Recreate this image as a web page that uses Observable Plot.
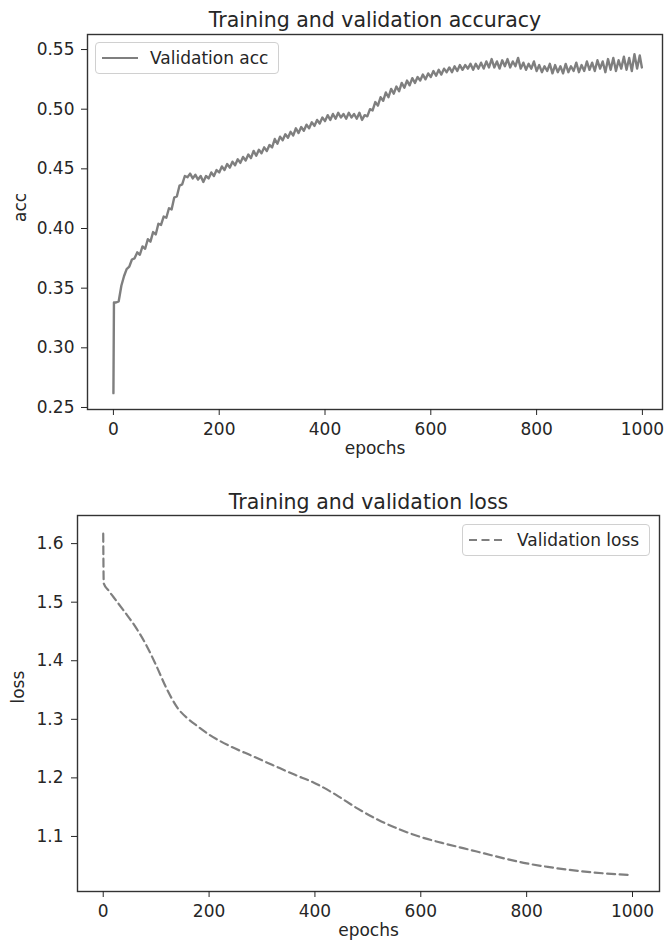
<!DOCTYPE html>
<html>
<head>
<meta charset="utf-8">
<script src="https://cdn.jsdelivr.net/npm/d3@7"></script>
<script src="https://cdn.jsdelivr.net/npm/@observablehq/plot@0.6"></script>
<style>
  html, body { margin: 0; padding: 0; background: #fff; }
  #wrap { position: relative; width: 667px; height: 950px; font-family: "DejaVu Sans", sans-serif; color: #262626; }
  #wrap svg { display: block; }
  .legend { position: absolute; box-sizing: border-box; border: 1px solid #d0d0d0; border-radius: 4px; background: rgba(255,255,255,0.8); font-size: 17px; display: flex; align-items: center; }
  .legend svg { display: inline-block; margin-right: 12px; }
</style>
</head>
<body>
<div id="wrap"></div>
<script>
// ---------- data ----------
const epochTicks = [0, 200, 400, 600, 800, 1000];
const accTicks = [0.25, 0.30, 0.35, 0.40, 0.45, 0.50, 0.55];
const lossTicks = [1.1, 1.2, 1.3, 1.4, 1.5, 1.6];

const accEpochs = [0, 1,
  5, 10, 15, 20, 25, 30, 35, 40, 45, 50,
  55, 60, 65, 70, 75, 80, 85, 90, 95, 100,
  105, 110, 115, 120, 125, 130, 135, 140, 145, 150,
  155, 160, 165, 170, 175, 180, 185, 190, 195, 200,
  205, 210, 215, 220, 225, 230, 235, 240, 245, 250,
  255, 260, 265, 270, 275, 280, 285, 290, 295, 300,
  305, 310, 315, 320, 325, 330, 335, 340, 345, 350,
  355, 360, 365, 370, 375, 380, 385, 390, 395, 400,
  405, 410, 415, 420, 425, 430, 435, 440, 445, 450,
  455, 460, 465, 470, 475, 480, 485, 490, 495, 500,
  505, 510, 515, 520, 525, 530, 535, 540, 545, 550,
  555, 560, 565, 570, 575, 580, 585, 590, 595, 600,
  605, 610, 615, 620, 625, 630, 635, 640, 645, 650,
  655, 660, 665, 670, 675, 680, 685, 690, 695, 700,
  705, 710, 715, 720, 725, 730, 735, 740, 745, 750,
  755, 760, 765, 770, 775, 780, 785, 790, 795, 800,
  805, 810, 815, 820, 825, 830, 835, 840, 845, 850,
  855, 860, 865, 870, 875, 880, 885, 890, 895, 900,
  905, 910, 915, 920, 925, 930, 935, 940, 945, 950,
  955, 960, 965, 970, 975, 980, 985, 990, 995, 999];

const accValues = [0.262, 0.338,
  0.338, 0.339, 0.352, 0.360, 0.366, 0.368, 0.374, 0.375, 0.380, 0.378,
  0.385, 0.383, 0.391, 0.389, 0.397, 0.395, 0.404, 0.403, 0.410, 0.409,
  0.417, 0.416, 0.426, 0.427, 0.436, 0.437, 0.444, 0.443, 0.446, 0.442,
  0.445, 0.441, 0.444, 0.439, 0.444, 0.442, 0.447, 0.444, 0.449, 0.447,
  0.452, 0.449, 0.454, 0.451, 0.456, 0.453, 0.458, 0.455, 0.460, 0.457,
  0.462, 0.459, 0.465, 0.461, 0.466, 0.463, 0.468, 0.465, 0.470, 0.468,
  0.475, 0.471, 0.477, 0.474, 0.479, 0.476, 0.481, 0.478, 0.484, 0.480,
  0.485, 0.482, 0.487, 0.484, 0.489, 0.486, 0.491, 0.488, 0.493, 0.490,
  0.495, 0.491, 0.496, 0.492, 0.497, 0.493, 0.496, 0.492, 0.497, 0.493,
  0.496, 0.492, 0.497, 0.491, 0.495, 0.494, 0.500, 0.499, 0.506, 0.503,
  0.510, 0.507, 0.514, 0.510, 0.517, 0.513, 0.519, 0.515, 0.522, 0.518,
  0.524, 0.520, 0.526, 0.522, 0.527, 0.524, 0.529, 0.525, 0.530, 0.527,
  0.532, 0.528, 0.533, 0.529, 0.534, 0.531, 0.535, 0.531, 0.536, 0.532,
  0.537, 0.533, 0.537, 0.534, 0.538, 0.533, 0.538, 0.534, 0.539, 0.534,
  0.540, 0.535, 0.542, 0.535, 0.540, 0.534, 0.541, 0.536, 0.542, 0.535,
  0.540, 0.536, 0.543, 0.534, 0.539, 0.533, 0.538, 0.534, 0.540, 0.532,
  0.537, 0.531, 0.536, 0.532, 0.538, 0.530, 0.537, 0.531, 0.536, 0.530,
  0.538, 0.531, 0.536, 0.532, 0.539, 0.531, 0.537, 0.532, 0.540, 0.533,
  0.539, 0.532, 0.541, 0.534, 0.540, 0.531, 0.542, 0.533, 0.543, 0.532,
  0.541, 0.534, 0.544, 0.533, 0.543, 0.532, 0.546, 0.534, 0.545, 0.535];

const lossEpochs = [0, 1, 10, 20, 40, 60, 80, 100, 120, 140, 160, 180, 200, 240, 280, 320, 360, 400,
  440, 480, 520, 560, 600, 640, 680, 720, 760, 800, 840, 880, 920, 960, 999];
const lossValues = [1.617, 1.532, 1.520, 1.508, 1.484, 1.459, 1.429, 1.392, 1.352, 1.320, 1.301, 1.287,
  1.274, 1.254, 1.238, 1.222, 1.206, 1.191, 1.171, 1.148, 1.128, 1.112, 1.099, 1.089, 1.080, 1.071,
  1.062, 1.054, 1.048, 1.043, 1.039, 1.036, 1.034];

const accTitle = "Training and validation accuracy";
const lossTitle = "Training and validation loss";

// ---------- tables ----------
const acc = accEpochs.map((e, i) => ({epoch: e, value: accValues[i]}));
const loss = lossEpochs.map((e, i) => ({epoch: e, value: lossValues[i]}));

const baseStyle = {fontFamily: "DejaVu Sans, sans-serif", fontSize: "17px", color: "#262626", background: "#fff", overflow: "visible"};
const lineGray = "#7f7f7f";
const fmtInt = d3.format("d");

const accPlot = Plot.plot({
  width: 667, height: 480,
  marginTop: 34, marginRight: 5, marginBottom: 71, marginLeft: 87,
  style: baseStyle,
  x: {domain: [-49, 1038]},
  y: {domain: [0.2483, 0.5626]},
  marks: [
    Plot.line(acc, {x: "epoch", y: "value", stroke: lineGray, strokeWidth: 2.4, strokeLinejoin: "round"}),
    Plot.frame({stroke: "#333", strokeWidth: 1.4}),
    Plot.axisX(epochTicks, {tickSize: 6, tickPadding: 7, tickFormat: fmtInt, label: null}),
    Plot.axisY(accTicks, {tickSize: 6, tickPadding: 7, tickFormat: d3.format(".2f"), label: null}),
    Plot.text(["epochs"], {text: d => d, frameAnchor: "bottom", dy: 44}),
    Plot.text(["acc"], {text: d => d, frameAnchor: "left", dx: -67, rotate: -90}),
    Plot.text([accTitle], {text: d => d, frameAnchor: "top", dy: -22, fontSize: 20.5})
  ]
});

const lossPlot = Plot.plot({
  width: 667, height: 470,
  marginTop: 35, marginRight: 8, marginBottom: 59, marginLeft: 77,
  style: baseStyle,
  x: {domain: [-48.6, 1051]},
  y: {domain: [1.006, 1.648]},
  marks: [
    Plot.line(loss, {x: "epoch", y: "value", stroke: lineGray, strokeWidth: 2.2, strokeDasharray: "8,4.5", curve: "monotone-x"}),
    Plot.frame({stroke: "#333", strokeWidth: 1.4}),
    Plot.axisX(epochTicks, {tickSize: 6, tickPadding: 7, tickFormat: fmtInt, label: null}),
    Plot.axisY(lossTicks, {tickSize: 6, tickPadding: 8, tickFormat: d3.format(".1f"), label: null}),
    Plot.text(["epochs"], {text: d => d, frameAnchor: "bottom", dy: 44}),
    Plot.text(["loss"], {text: d => d, frameAnchor: "left", dx: -59, rotate: -90}),
    Plot.text([lossTitle], {text: d => d, frameAnchor: "top", dy: -21, fontSize: 20.5})
  ]
});

const wrap = document.getElementById("wrap");
wrap.appendChild(accPlot);
wrap.appendChild(lossPlot);

// legends (HTML overlays)
function legend(left, top, w, h, label, dash) {
  const d = document.createElement("div");
  d.className = "legend";
  d.style.left = left + "px"; d.style.top = top + "px";
  d.style.width = w + "px"; d.style.height = h + "px";
  d.style.paddingLeft = "6px";
  const s = d3.create("svg").attr("width", 36).attr("height", 10);
  s.append("line").attr("x1", 0).attr("x2", 36).attr("y1", 5).attr("y2", 5)
    .attr("stroke", lineGray).attr("stroke-width", dash ? 2.2 : 2)
    .attr("stroke-dasharray", dash ? "8,4.5" : null);
  d.appendChild(s.node());
  const t = document.createElement("span");
  t.textContent = label;
  d.appendChild(t);
  wrap.appendChild(d);
}
legend(95, 42, 184, 32, "Validation acc", false);
legend(462, 524, 188, 32, "Validation loss", true);
</script>
</body>
</html>
